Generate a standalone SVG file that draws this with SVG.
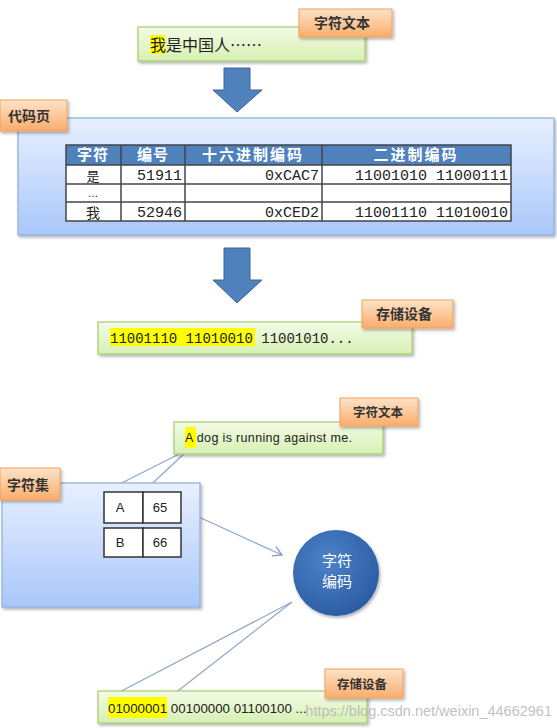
<svg xmlns="http://www.w3.org/2000/svg" width="557" height="728" viewBox="0 0 557 728">
<defs>
<linearGradient id="gGreen" x1="0" y1="0" x2="0" y2="1"><stop offset="0" stop-color="#f3fbe6"/><stop offset="1" stop-color="#d7f0b3"/></linearGradient>
<linearGradient id="gOrange" x1="0" y1="0" x2="0" y2="1"><stop offset="0" stop-color="#fde3c8"/><stop offset="1" stop-color="#f9ad6b"/></linearGradient>
<linearGradient id="gBlue" x1="0" y1="0" x2="0" y2="1"><stop offset="0" stop-color="#e8f0ff"/><stop offset="1" stop-color="#a9c7fa"/></linearGradient>
<radialGradient id="gCircle" cx="0.4" cy="0.35" r="0.7"><stop offset="0" stop-color="#4d82c8"/><stop offset="1" stop-color="#2a5ba3"/></radialGradient>
<filter id="sh" x="-10%" y="-10%" width="125%" height="135%"><feDropShadow dx="1.5" dy="2" stdDeviation="1.5" flood-color="#000" flood-opacity="0.3"/></filter>
<marker id="open" markerWidth="12" markerHeight="12" refX="10" refY="6" orient="auto" markerUnits="userSpaceOnUse"><path d="M1,1 L10,6 L1,11" fill="none" stroke="#7f9dc4" stroke-width="1.3"/></marker>
</defs>
<style>
.green{fill:url(#gGreen);stroke:#a6cc6d;stroke-width:1.2;filter:url(#sh)}
.orange{fill:url(#gOrange);stroke:#f2a05d;stroke-width:1;filter:url(#sh)}
.blue{fill:url(#gBlue);stroke:#8aaedb;stroke-width:1.2;filter:url(#sh)}
.lbl{font-family:"Noto Sans CJK SC","Liberation Sans",sans-serif;font-weight:bold;fill:#333;text-anchor:middle}
.cjk{font-family:"Noto Sans CJK SC","Liberation Sans",sans-serif;fill:#222}
.mono{font-family:"Liberation Mono",monospace;fill:#222}
.sans{font-family:"Liberation Sans","Noto Sans CJK SC",sans-serif;fill:#222}
.hdr{font-family:"Noto Sans CJK SC","Liberation Sans",sans-serif;font-weight:bold;fill:#fff;text-anchor:middle;font-size:15px}
.cell{fill:#fff;stroke:#333;stroke-width:1.5}
.tl{stroke:#444;stroke-width:1.5;fill:none}
.arrow{fill:#4f81bd;stroke:#3b6699;stroke-width:1}
.conn{stroke:#8ea7c8;stroke-width:1.2;fill:none}
.hl{fill:#ffff00}
</style>

<g id="connectors">
<path class="arrow" d="M224,68 H250 V90 H262 L237,112 L213,90 H224 Z"/>
<path class="arrow" d="M224,248 H250 V280 H262 L237,303 L213,280 H224 Z"/>
<line class="conn" x1="183" y1="452" x2="104" y2="492"/>
<line class="conn" x1="186" y1="452" x2="143" y2="492"/>
<line class="conn" x1="190" y1="513" x2="282" y2="555" marker-end="url(#open)"/>
<line class="conn" x1="292" y1="602" x2="110" y2="697"/>
<line class="conn" x1="292" y1="602" x2="170" y2="697"/>
</g>

<g id="text1">
<rect class="green" x="138" y="27" width="227" height="34"/>
<rect class="hl" x="150" y="35" width="15" height="19"/>
<text class="cjk" x="150" y="51" font-size="16">我是中国人……</text>
</g>
<g id="label-text1">
<rect class="orange" x="299" y="9" width="93" height="28"/>
<text class="lbl" x="342" y="28" font-size="14">字符文本</text>
</g>

<g id="codepage">
<rect class="blue" x="18" y="118" width="536" height="117"/>
<rect x="66" y="145" width="445" height="20" fill="#4f81bd"/>
<rect x="66" y="165" width="445" height="56" fill="#fff"/>
<rect class="tl" x="66" y="145" width="445" height="76"/>
<line class="tl" x1="66" y1="165" x2="511" y2="165"/>
<line class="tl" x1="66" y1="184" x2="511" y2="184"/>
<line class="tl" x1="66" y1="202" x2="511" y2="202"/>
<line class="tl" x1="121" y1="145" x2="121" y2="221"/>
<line class="tl" x1="185" y1="145" x2="185" y2="221"/>
<line class="tl" x1="322" y1="145" x2="322" y2="221"/>
<text class="hdr" x="93" y="160" letter-spacing="1">字符</text>
<text class="hdr" x="153" y="160" letter-spacing="1">编号</text>
<text class="hdr" x="253" y="160" letter-spacing="2">十六进制编码</text>
<text class="hdr" x="416" y="160" letter-spacing="2">二进制编码</text>
<text class="cjk" x="93" y="181" font-size="13" text-anchor="middle">是</text>
<text class="mono" x="182" y="180" font-size="15" text-anchor="end">51911</text>
<text class="mono" x="319" y="180" font-size="15" text-anchor="end">0xCAC7</text>
<text class="mono" x="508" y="180" font-size="15" text-anchor="end">11001010 11000111</text>
<text font-family="Liberation Sans, sans-serif" fill="#222" x="93" y="197" font-size="11" text-anchor="middle">…</text>
<text class="cjk" x="93" y="218" font-size="14" text-anchor="middle">我</text>
<text class="mono" x="182" y="217" font-size="15" text-anchor="end">52946</text>
<text class="mono" x="319" y="217" font-size="15" text-anchor="end">0xCED2</text>
<text class="mono" x="508" y="217" font-size="15" text-anchor="end">11001110 11010010</text>
</g>
<g id="label-codepage">
<rect class="orange" x="0" y="100" width="67" height="31"/>
<text class="lbl" x="29" y="121" font-size="14">代码页</text>
</g>

<g id="storage1">
<rect class="green" x="98" y="322" width="314" height="32"/>
<rect class="hl" x="110" y="328" width="145" height="18"/>
<text class="mono" x="110" y="343" font-size="14">11001110 11010010 11001010...</text>
</g>
<g id="label-storage1">
<rect class="orange" x="362" y="300" width="91" height="28"/>
<text class="lbl" x="404" y="319" font-size="14">存储设备</text>
</g>

<g id="text2">
<rect class="green" x="174" y="422" width="209" height="32"/>
<rect class="hl" x="185" y="427" width="11" height="21"/>
<text class="sans" x="185" y="442" font-size="12.5" textLength="167">A dog is running against me.</text>
</g>
<g id="label-text2">
<rect class="orange" x="340" y="398" width="78" height="28"/>
<text class="lbl" x="378" y="417" font-size="12.5">字符文本</text>
</g>

<g id="charset">
<rect class="blue" x="2" y="483" width="198" height="124"/>
<rect class="cell" x="104" y="492" width="39" height="31"/>
<rect class="cell" x="143" y="492" width="38" height="31"/>
<rect class="cell" x="104" y="528" width="39" height="29"/>
<rect class="cell" x="143" y="528" width="38" height="29"/>
<text class="sans" x="120" y="512" font-size="13" text-anchor="middle">A</text>
<text class="sans" x="160" y="512" font-size="13" text-anchor="middle">65</text>
<text class="sans" x="120" y="547" font-size="13" text-anchor="middle">B</text>
<text class="sans" x="160" y="547" font-size="13" text-anchor="middle">66</text>
</g>
<g id="label-charset">
<rect class="orange" x="0" y="468" width="60" height="32"/>
<text class="lbl" x="28" y="490" font-size="14">字符集</text>
</g>

<g id="encoder">
<circle cx="336" cy="573" r="43" fill="url(#gCircle)" filter="url(#sh)"/>
<text class="cjk" x="337" y="566" font-size="15" text-anchor="middle" style="fill:#fff">字符</text>
<text class="cjk" x="337" y="587" font-size="15" text-anchor="middle" style="fill:#fff">编码</text>
</g>

<g id="storage2">
<rect class="green" x="98" y="691" width="269" height="32"/>
<rect class="hl" x="108" y="697" width="59" height="21"/>
<text class="sans" x="108" y="713" font-size="13.3">01000001 00100000 01100100 ...</text>
</g>
<g id="label-storage2">
<rect class="orange" x="325" y="669" width="78" height="29"/>
<text class="lbl" x="362" y="689" font-size="12.5">存储设备</text>
</g>

<text x="552" y="716" font-family="Liberation Sans, sans-serif" font-size="14.5" text-anchor="end" fill="#b0b0b0" fill-opacity="0.8">https://blog.csdn.net/weixin_44662961</text>
</svg>
